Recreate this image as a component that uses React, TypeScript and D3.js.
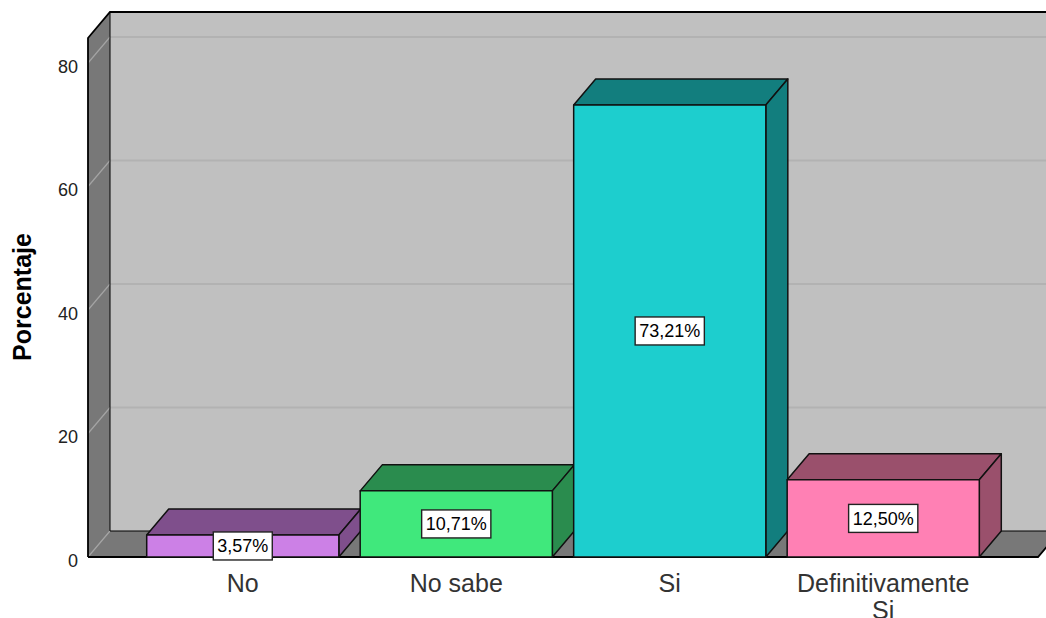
import React from "react";
import * as d3 from "d3";

const categories = ["No", "No sabe", "Si", "Definitivamente Si"];
const categoryLines = [["No"], ["No sabe"], ["Si"], ["Definitivamente", "Si"]];
const values = [3.57, 10.71, 73.21, 12.5];
const valueLabels = ["3,57%", "10,71%", "73,21%", "12,50%"];
const yTicks = [0, 20, 40, 60, 80];
const frontColors = ["#cc80e6", "#40e87c", "#1dcece", "#ff80b4"];
const darkColors = ["#7f4f8c", "#2a8c4e", "#127e7e", "#9a506c"];

const W = 1046;
const H = 618;
const DX = 22;
const DY = -26;

const App: React.FC = () => {
  // front plane of the chart
  const left = 88;
  const right = 1038;
  const y = d3.scaleLinear().domain([0, 80]).range([557, 63]);
  const yTop = y(84.05);
  const yBase = y(0);

  const x = d3
    .scaleBand<string>()
    .domain(categories)
    .range([left, right])
    .paddingInner(0.1)
    .paddingOuter(0.275);

  const pts = (p: [number, number][]) => p.map((d) => d.join(",")).join(" ");

  return (
    <div style={{ position: "absolute", left: 0, top: 0 }}>
      <svg width={W} height={H} style={{ display: "block", fontFamily: "Arial, 'Liberation Sans', sans-serif" }}>
        <rect width={W} height={H} fill="#ffffff" />

        {/* back wall */}
        <rect
          x={left + DX}
          y={yTop + DY}
          width={right - left + 10}
          height={yBase - yTop}
          fill="#c0c0c0"
        />
        {/* side wall */}
        <polygon
          points={pts([
            [left, yTop],
            [left + DX, yTop + DY],
            [left + DX, yBase + DY],
            [left, yBase],
          ])}
          fill="#787878"
        />
        {/* floor */}
        <polygon
          points={pts([
            [left, yBase],
            [left + DX, yBase + DY],
            [right + DX, yBase + DY],
            [right, yBase],
          ])}
          fill="#787878"
        />

        {/* grid lines */}
        {yTicks.map((t) => (
          <g key={t}>
            <line x1={left} y1={y(t)} x2={left + DX} y2={y(t) + DY} stroke="#a4a4a4" strokeWidth={1.2} />
            {t > 0 && (
              <line x1={left + DX} y1={y(t) + DY} x2={W} y2={y(t) + DY} stroke="#b2b2b2" strokeWidth={2} />
            )}
          </g>
        ))}

        {/* wall edges */}
        <path
          d={`M${left},${yBase}V${yTop}L${left + DX},${yTop + DY}H${W}`}
          fill="none"
          stroke="#000"
          strokeWidth={1.8}
        />
        <path
          d={`M${left + DX},${yTop + DY}V${yBase + DY}H${W}`}
          fill="none"
          stroke="#000"
          strokeWidth={1}
        />
        <path
          d={`M${left},${yBase}H${right}L${right + DX},${yBase + DY}`}
          fill="none"
          stroke="#000"
          strokeWidth={1.8}
        />

        {/* bars */}
        {categories.map((c, i) => {
          const x0 = x(c) as number;
          const x1 = x0 + x.bandwidth();
          const yv = y(values[i]);
          return (
            <g key={c} stroke="#111" strokeWidth={1.5} strokeLinejoin="round">
              <polygon
                points={pts([
                  [x0, yv],
                  [x0 + DX, yv + DY],
                  [x1 + DX, yv + DY],
                  [x1, yv],
                ])}
                fill={darkColors[i]}
              />
              <polygon
                points={pts([
                  [x1, yv],
                  [x1 + DX, yv + DY],
                  [x1 + DX, yBase + DY],
                  [x1, yBase],
                ])}
                fill={darkColors[i]}
              />
              <rect x={x0} y={yv} width={x1 - x0} height={yBase - yv} fill={frontColors[i]} />
            </g>
          );
        })}

        {/* value labels */}
        {categories.map((c, i) => {
          const cx = (x(c) as number) + x.bandwidth() / 2;
          const cy = (y(values[i]) + yBase) / 2;
          const w = valueLabels[i].length * 10.2 + 8;
          return (
            <g key={c}>
              <rect x={cx - w / 2} y={cy - 14} width={w} height={28} fill="#fff" stroke="#222" strokeWidth={1.4} />
              <text x={cx} y={cy + 6.5} textAnchor="middle" fontSize={18} fill="#000">
                {valueLabels[i]}
              </text>
            </g>
          );
        })}

        {/* y axis labels */}
        {yTicks.map((t) => (
          <text key={t} x={78} y={y(t) + 9.5} textAnchor="end" fontSize={18} fill="#222">
            {t}
          </text>
        ))}
        <text
          transform={`translate(31,297) rotate(-90)`}
          textAnchor="middle"
          fontSize={25}
          fontWeight="bold"
          fill="#000"
        >
          Porcentaje
        </text>

        {/* category labels */}
        {categories.map((c, i) => (
          <text
            key={c}
            x={(x(c) as number) + x.bandwidth() / 2}
            y={592}
            textAnchor="middle"
            fontSize={25}
            fill="#333"
          >
            {categoryLines[i].map((line, j) => (
              <tspan key={j} x={(x(c) as number) + x.bandwidth() / 2} dy={j === 0 ? 0 : 27}>
                {line}
              </tspan>
            ))}
          </text>
        ))}
      </svg>
    </div>
  );
};

export default App;
